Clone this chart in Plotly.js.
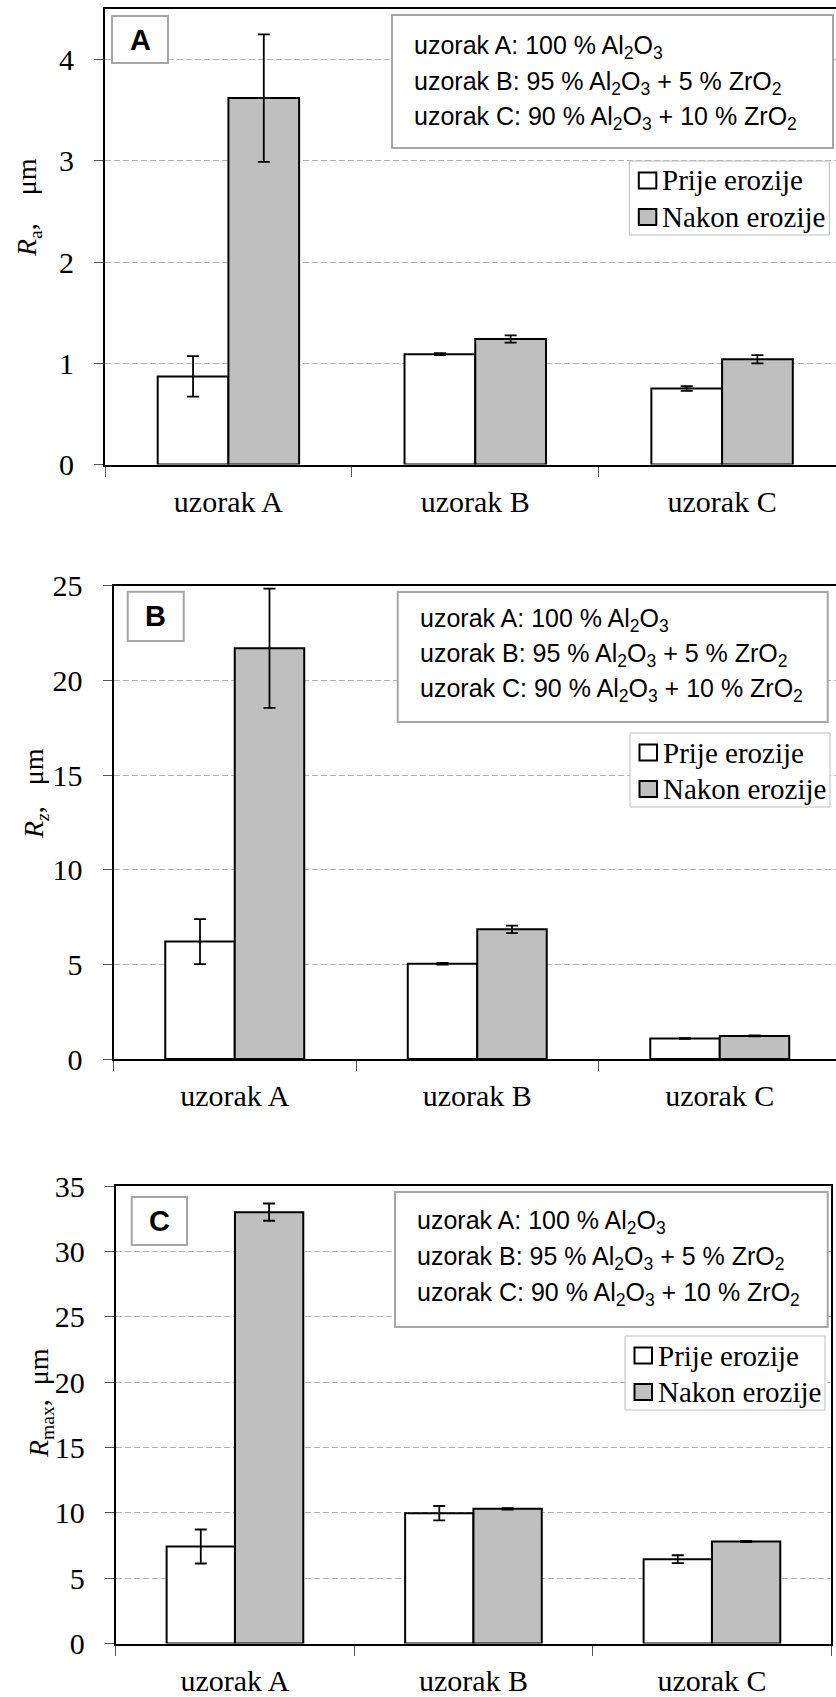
<!DOCTYPE html>
<html><head><meta charset="utf-8">
<script src="https://cdn.plot.ly/plotly-3.0.1.min.js"></script>
<style>html,body{margin:0;padding:0;background:#fff;overflow:hidden;width:836px;height:1697px}#chart{width:850px;height:1697px}</style>
</head><body><div id="chart"></div>
<script>
// ---- data ----
const categories = ['uzorak A', 'uzorak B', 'uzorak C'];
const seriesNames = ['Prije erozije', 'Nakon erozije'];
const seriesColors = ['#ffffff', '#bfbfbf'];

const raBefore = [0.87, 1.09, 0.75];
const raBeforeErr = [0.20, 0.01, 0.023];
const raAfter = [3.62, 1.24, 1.04];
const raAfterErr = [0.63, 0.035, 0.04];

const rzBefore = [6.2, 5.03, 1.08];
const rzBeforeErr = [1.19, 0.05, 0.02];
const rzAfter = [21.7, 6.85, 1.22];
const rzAfterErr = [3.15, 0.2, 0.03];

const rmaxBefore = [7.42, 9.97, 6.45];
const rmaxBeforeErr = [1.3, 0.55, 0.3];
const rmaxAfter = [33.0, 10.3, 7.8];
const rmaxAfterErr = [0.66, 0.05, 0.05];

const yTitles = ['<i>R</i><sub>a</sub>,    μm',
                 '<i>R</i><sub><i>z</i></sub>,   μm',
                 '<i>R</i><sub>max</sub>,  μm'];
const panelLetters = ['A', 'B', 'C'];
const infoLines = ['uzorak A: 100 % Al<sub>2</sub>O<sub>3</sub>',
                   'uzorak B: 95 % Al<sub>2</sub>O<sub>3</sub> + 5 % ZrO<sub>2</sub>',
                   'uzorak C: 90 % Al<sub>2</sub>O<sub>3</sub> + 10 % ZrO<sub>2</sub>'];
const yMax = [4.5, 25, 35];
const yStep = [1, 5, 5];

// ---- layout geometry (pixels) ----
const W = 850, H = 1697;
const px = x => x / W, py = y => 1 - y / H;
const panels = [
  {left:105, right:845.5, top:9, bottom:464.5, ytx:29, yty:208,
   info:[392,833,15,148], infoY:[47,83,118], infoX:412,
   letter:[112,168,16,63], leg:[629.3,161]},
  {left:113.5, right:841, top:585.7, bottom:1059, ytx:36, yty:794,
   info:[397.7,827.7,592,722], infoY:[620,655,690], infoX:418,
   letter:[127.7,183.7,591.7,641], leg:[630,733]},
  {left:115.7, right:831.2, top:1186, bottom:1643.5, ytx:40, yty:1403,
   info:[395,827.7,1192,1327], infoY:[1222,1258,1294], infoX:415,
   letter:[131.7,187,1197,1245], leg:[625,1336]}
];

const dataSets = [
  [raBefore, raBeforeErr, raAfter, raAfterErr],
  [rzBefore, rzBeforeErr, rzAfter, rzAfterErr],
  [rmaxBefore, rmaxBeforeErr, rmaxAfter, rmaxAfterErr]
];

const serif = '"Liberation Serif", serif';
const sans = '"Liberation Sans", sans-serif';
const traces = [];
const layout = {
  width: W, height: H,
  margin: {l:0, r:0, t:0, b:0},
  paper_bgcolor: '#fff', plot_bgcolor: '#fff',
  barmode: 'group', bargap: 0.427, bargroupgap: 0,
  font: {family: serif, color: '#000'},
  showlegend: false,
  annotations: [], shapes: []
};

const rect = (x0, x1, y0, y1, line, fill, lw) => ({
  type: 'rect', xref: 'paper', yref: 'paper',
  x0: px(x0), x1: px(x1), y0: py(y1), y1: py(y0),
  line: {color: line, width: lw}, fillcolor: fill, layer: 'above'
});

panels.forEach((p, i) => {
  const sfx = i === 0 ? '' : String(i + 1);
  const [b, be, a, ae] = dataSets[i];
  [[b, be], [a, ae]].forEach(([vals, errs], s) => {
    traces.push({
      type: 'bar', name: seriesNames[s], x: categories, y: vals,
      xaxis: 'x' + sfx, yaxis: 'y' + sfx,
      marker: {color: seriesColors[s], line: {color: '#000', width: 2}},
      error_y: {type: 'data', array: errs, visible: true, color: '#000', thickness: 1.8, width: 6}
    });
  });
  layout['xaxis' + sfx] = {
    domain: [px(p.left), px(p.right)], anchor: 'y' + sfx,
    type: 'category', range: [-0.5, 2.5],
    showline: true, mirror: true, linecolor: '#000', linewidth: 2,
    ticks: 'outside', tickson: 'boundaries', ticklen: 10, tickwidth: 1, tickcolor: '#555',
    tickfont: {family: serif, size: 30, color: '#000'}, ticklabelstandoff: 9,
    showgrid: false, zeroline: false, fixedrange: true
  };
  layout['yaxis' + sfx] = {
    domain: [py(p.bottom), py(p.top)], anchor: 'x' + sfx,
    range: [0, yMax[i]], tick0: 0, dtick: yStep[i],
    showline: true, mirror: true, linecolor: '#000', linewidth: 2,
    ticks: 'outside', ticklen: 9, tickwidth: 1, tickcolor: '#555',
    tickfont: {family: serif, size: 30, color: '#000'}, ticklabelstandoff: 14,
    showgrid: true, gridcolor: '#b4b4b4', gridwidth: 1, griddash: '6px,3px',
    zeroline: false, fixedrange: true
  };
  // y title
  layout.annotations.push({
    xref: 'paper', yref: 'paper', x: px(p.ytx), y: py(p.yty),
    xanchor: 'center', yanchor: 'middle',
    text: yTitles[i], textangle: -90, showarrow: false,
    font: {family: serif, size: 28, color: '#000'}
  });
  // composition info box
  layout.shapes.push(rect(p.info[0], p.info[1], p.info[2], p.info[3], '#a6a6a6', '#fff', 2));
  infoLines.forEach((t, k) => {
    layout.annotations.push({
      xref: 'paper', yref: 'paper', x: px(p.infoX), y: py(p.infoY[k]),
      xanchor: 'left', yanchor: 'middle', text: t, showarrow: false,
      font: {family: sans, size: 25, color: '#000'}
    });
  });
  // panel letter box
  layout.shapes.push(rect(p.letter[0], p.letter[1], p.letter[2], p.letter[3], '#a6a6a6', '#fff', 2));
  layout.annotations.push({
    xref: 'paper', yref: 'paper',
    x: px((p.letter[0] + p.letter[1]) / 2), y: py((p.letter[2] + p.letter[3]) / 2),
    xanchor: 'center', yanchor: 'middle', text: '<b>' + panelLetters[i] + '</b>', showarrow: false,
    font: {family: sans, size: 29, color: '#000'}
  });
  // legend box (series names and colours)
  const lx = p.leg[0], ly = p.leg[1];
  layout.shapes.push(rect(lx, lx + 200, ly, ly + 74, '#bfbfbf', '#fff', 1));
  seriesNames.forEach((nm, s) => {
    const cy = ly + 19.5 + s * 36.5;
    layout.shapes.push(rect(lx + 9.5, lx + 27, cy - 8, cy + 8, '#000', seriesColors[s], 2));
    layout.annotations.push({
      xref: 'paper', yref: 'paper', x: px(lx + 31), y: py(cy),
      xanchor: 'left', yanchor: 'middle', text: nm, showarrow: false,
      font: {family: serif, size: 29, color: '#000'}
    });
  });
});

Plotly.newPlot('chart', traces, layout, {displayModeBar: false, staticPlot: true});
</script>
</body></html>
